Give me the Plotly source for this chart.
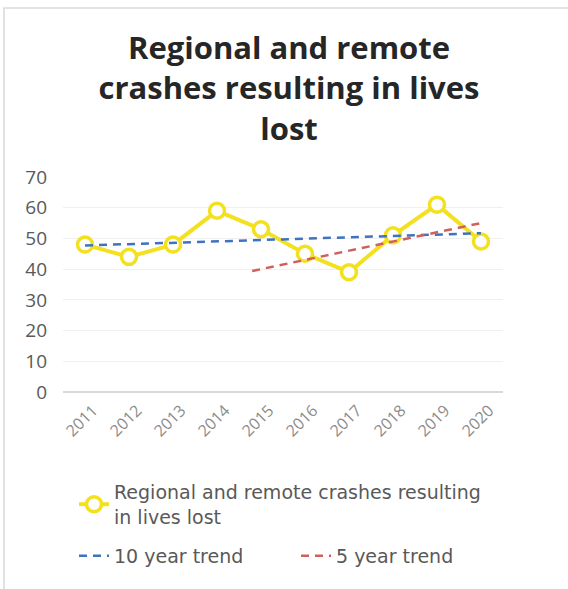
import plotly.graph_objects as go

years = [2011, 2012, 2013, 2014, 2015, 2016, 2017, 2018, 2019, 2020]
lives_lost = [48, 44, 48, 59, 53, 45, 39, 51, 61, 49]

trend10_x = [2011, 2020]
trend10_y = [47.7, 51.7]

trend5_x = [2014.8, 2020]
trend5_y = [39.4, 55.0]

y_ticks = [0, 10, 20, 30, 40, 50, 60, 70]

FONT = "Open Sans"
LEG_FONT = "DejaVu Sans"
W, H = 568, 589
L, R, T, B = 63, 65, 177, 197

pw = W - L - R
ph = H - T - B
def px_x(p):
    return (p - L) / pw
def px_y(p):
    return (H - B - p) / ph

fig = go.Figure()
fig.add_trace(go.Scatter(
    x=years, y=lives_lost, mode="lines+markers",
    name="Regional and remote crashes resulting<br>in lives lost",
    line=dict(color="#F3E01F", width=4),
    marker=dict(symbol="circle", size=15, color="white",
                line=dict(color="#F3E01F", width=3.5)),
    legend="legend",
))
fig.add_trace(go.Scatter(
    x=trend10_x, y=trend10_y, mode="lines", name="10 year trend",
    line=dict(color="#3F72BF", width=2.5, dash="8px,6px"),
    legend="legend2",
))
fig.add_trace(go.Scatter(
    x=trend5_x, y=trend5_y, mode="lines", name="5 year trend",
    line=dict(color="#D0605C", width=2.5, dash="8px,6px"),
    legend="legend3",
))

fig.add_shape(type="rect", xref="paper", yref="paper",
              x0=px_x(4), x1=px_x(580), y0=px_y(600), y1=px_y(8),
              line=dict(color="#D9D9D9", width=1.5), fillcolor="rgba(0,0,0,0)",
              layer="below")

leg_font = dict(family=LEG_FONT, size=19, color="#595959")
fig.update_layout(
    width=W, height=H,
    margin=dict(l=L, r=R, t=T, b=B, autoexpand=False),
    paper_bgcolor="white", plot_bgcolor="white",
    font=dict(family=FONT, color="#595959"),
    title=dict(
        text="<b>Regional and remote<br>crashes resulting in lives<br>lost</b>",
        x=289 / W, xanchor="center", y=1 - 59 / H, yanchor="top",
        font=dict(family=FONT, size=31, color="#262626"),
    ),
    xaxis=dict(
        range=[2010.5, 2020.5], tickmode="array", tickvals=years,
        ticktext=[str(y) for y in years], tickangle=-45,
        showgrid=False, zeroline=False, showline=False, ticks="",
        ticklabelstandoff=5, ticklabelshift=8,
        tickfont=dict(family=FONT, size=16, color="#8C8C8C"),
    ),
    yaxis=dict(
        range=[0, 70], tickmode="array", tickvals=y_ticks,
        showgrid=True, gridcolor="#F0F0F0", gridwidth=1,
        zeroline=True, zerolinecolor="#D9D9D9", zerolinewidth=1.5,
        showline=False, ticks="", ticklabelstandoff=15,
        tickfont=dict(family=FONT, size=19, color="#595959"),
    ),
    showlegend=True,
    legend=dict(
        orientation="h", x=px_x(74), y=px_y(473), xanchor="left", yanchor="top",
        font=leg_font, bgcolor="rgba(0,0,0,0)",
    ),
    legend2=dict(
        orientation="h", x=px_x(74), y=px_y(537), xanchor="left", yanchor="top",
        font=leg_font, bgcolor="rgba(0,0,0,0)",
    ),
    legend3=dict(
        orientation="h", x=px_x(296), y=px_y(537), xanchor="left", yanchor="top",
        font=leg_font, bgcolor="rgba(0,0,0,0)",
    ),
)

fig.write_html("out.html", config={"displayModeBar": False},
               post_script="document.body.style.margin='0';")
